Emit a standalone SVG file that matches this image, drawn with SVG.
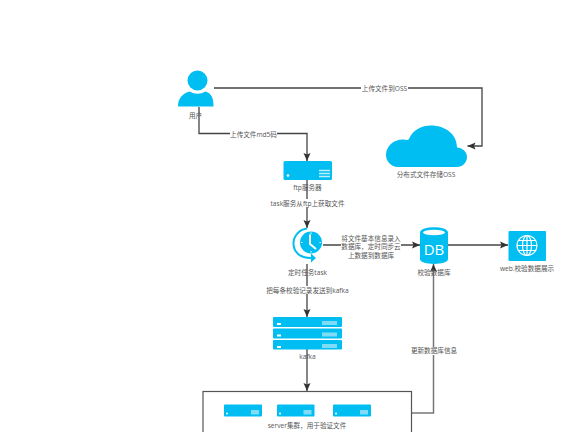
<svg xmlns="http://www.w3.org/2000/svg" width="576" height="432" viewBox="0 0 576 432">
<defs>
<style>
text{font-family:"Open Sans","Noto Sans CJK SC",sans-serif;font-size:6.6px;fill:#555;text-anchor:middle}
.c{fill:none;stroke:#444;stroke-width:1.3}
.g{fill:none;stroke:#777;stroke-width:1.5}
.b{fill:#00bef2}
.l{fill:#7fdcf6}
.bg{fill:#fff}
</style>
<marker id="a" markerUnits="userSpaceOnUse" markerWidth="9" markerHeight="8" refX="8" refY="4" orient="auto"><path d="M0 .5L8 4L0 7.500L1.500 4Z" fill="#333"/></marker>
</defs>
<rect width="576" height="432" fill="#fff"/>
<g id="connectors">
<path class="c" d="M214 88H482V146H467.500" marker-end="url(#a)"/>
<path class="c" d="M199 107V133.500H307V161" marker-end="url(#a)"/>
<path class="c" d="M307 180V228" marker-end="url(#a)"/>
<path class="c" d="M323 245H420" marker-end="url(#a)"/>
<path class="c" d="M448 245H508" marker-end="url(#a)"/>
<path class="c" d="M307 264V317" marker-end="url(#a)"/>
<path class="c" d="M307 349V391" marker-end="url(#a)"/>
<path class="g" d="M411.500 413H433.500V264" marker-end="url(#a)"/>
<rect class="bg" x="361" y="84" width="47" height="8"/><text x="384.500" y="90.500">上传文件到OSS</text>
<rect class="bg" x="230" y="130" width="47" height="8"/><text x="253.500" y="136.500">上传文件md5码</text>
<rect class="bg" x="270" y="199" width="75" height="8"/><text x="307.500" y="205.500">task服务从ftp上获取文件</text>
<rect class="bg" x="341" y="234" width="60" height="25"/>
<text x="371" y="240.500">将文件基本信息录入</text><text x="371" y="249">数据库，定时同步云</text><text x="371" y="257.500">上数据到数据库</text>
<rect class="bg" x="267" y="286" width="82" height="8"/><text x="307.500" y="292.500">把每条校验记录发送到kafka</text>
<rect class="bg" x="411" y="347" width="46" height="8"/><text x="434" y="353">更新数据库信息</text>
</g>
<g id="user">
<circle class="b" cx="197.500" cy="80.500" r="10"/>
<path class="b" d="M178 106.500C178 98 183 93 190 91.500C194 94.500 201 94.500 205 91.500C212 93 213.500 99 213.500 106.500Z"/>
<text x="195.500" y="117.500">用户</text>
</g>
<g id="oss">
<path class="b" d="M398 167C391 167 386 161 386 155C386 146 394 139 404 139.500C405 140 408 140.500 409 139C413 130 421 125.500 431 125.500C445 125.500 457 134 457 147.500C463 148 467 152 467 157C467 163 462 167 457 167Z"/>
<text x="426" y="176.500">分布式文件存储OSS</text>
</g>
<g id="ftp">
<rect class="b" x="283.500" y="161" width="48.500" height="19" rx="1.500"/>
<circle cx="288" cy="175.500" r="1.300" fill="#fff"/>
<path d="M319 170.500h11M319 173.500h11M319 176.500h11" stroke="#bdeefb" stroke-width="1.300"/>
<text x="307.500" y="189.500">ftp服务器</text>
</g>
<g id="task">
<circle class="b" cx="311" cy="242.500" r="11"/>
<path d="M310 234.500V244L316 249" fill="none" stroke="#fff" stroke-width="2"/>
<path d="M311 232.500v1.500M311 251v1.500M301 242.500h1.500M319.500 242.500h1.500" stroke="#fff" stroke-width="1"/>
<path d="M307 228.500C299 229.500 293.500 236 293.500 243.500C293.500 252 300 258 311 258" fill="none" stroke="#00bef2" stroke-width="2"/>
<path class="b" d="M311 253.500L316 258L311 262.500Z"/>
<text x="307.500" y="274.500">定时任务task</text>
</g>
<g id="db">
<path class="b" d="M420 232.500C420 225.500 448 225.500 448 232.500V259C448 265.500 420 265.500 420 259Z"/>
<ellipse cx="434" cy="232.500" rx="11" ry="2.800" fill="#fff"/>
<text x="434" y="255" style="font-size:15px;fill:#fff">DB</text>
<text x="434" y="274.500">校验数据库</text>
</g>
<g id="web">
<rect class="b" x="508.500" y="231" width="37.500" height="30" rx="1"/>
<g fill="none" stroke="#fff" stroke-width="1.200">
<circle cx="527" cy="245.500" r="10"/>
<ellipse cx="527" cy="245.500" rx="4.500" ry="10"/>
<path d="M527 235.500v20M517 245.500h20M518.500 240.500h17M518.500 250.500h17"/>
</g>
<text x="527" y="271">web.校验数据展示</text>
</g>
<g id="kafka">
<rect class="b" x="273" y="317" width="69" height="10" rx="1"/><rect class="l" x="322" y="321" width="15" height="4"/><rect x="277" y="323" width="4" height="2" fill="#fff"/>
<rect class="b" x="273" y="328.500" width="69" height="10" rx="1"/><rect class="l" x="322" y="332.500" width="15" height="4"/><rect x="277" y="334.500" width="4" height="2" fill="#fff"/>
<rect class="b" x="273" y="340" width="69" height="9.500" rx="1"/><rect class="l" x="322" y="344" width="15" height="4"/><rect x="277" y="346" width="4" height="2" fill="#fff"/>
<text x="307.500" y="359">kafka</text>
</g>
<g id="cluster">
<rect x="203" y="391.500" width="208.500" height="60" fill="#fff" stroke="#555" stroke-width="1.200"/>
<rect class="b" x="224" y="404.500" width="38" height="12" rx="1"/><rect class="l" x="251" y="410" width="8" height="4.500"/><circle cx="227" cy="413.500" r="1" fill="#fff"/>
<rect class="b" x="277" y="404.500" width="37.500" height="12" rx="1"/><rect class="l" x="303.500" y="410" width="8" height="4.500"/><circle cx="280" cy="413.500" r="1" fill="#fff"/>
<rect class="b" x="333" y="404.500" width="38" height="12" rx="1"/><rect class="l" x="360" y="410" width="8" height="4.500"/><circle cx="336" cy="413.500" r="1" fill="#fff"/>
<text x="307" y="428">server集群，用于验证文件</text>
</g>
</svg>
